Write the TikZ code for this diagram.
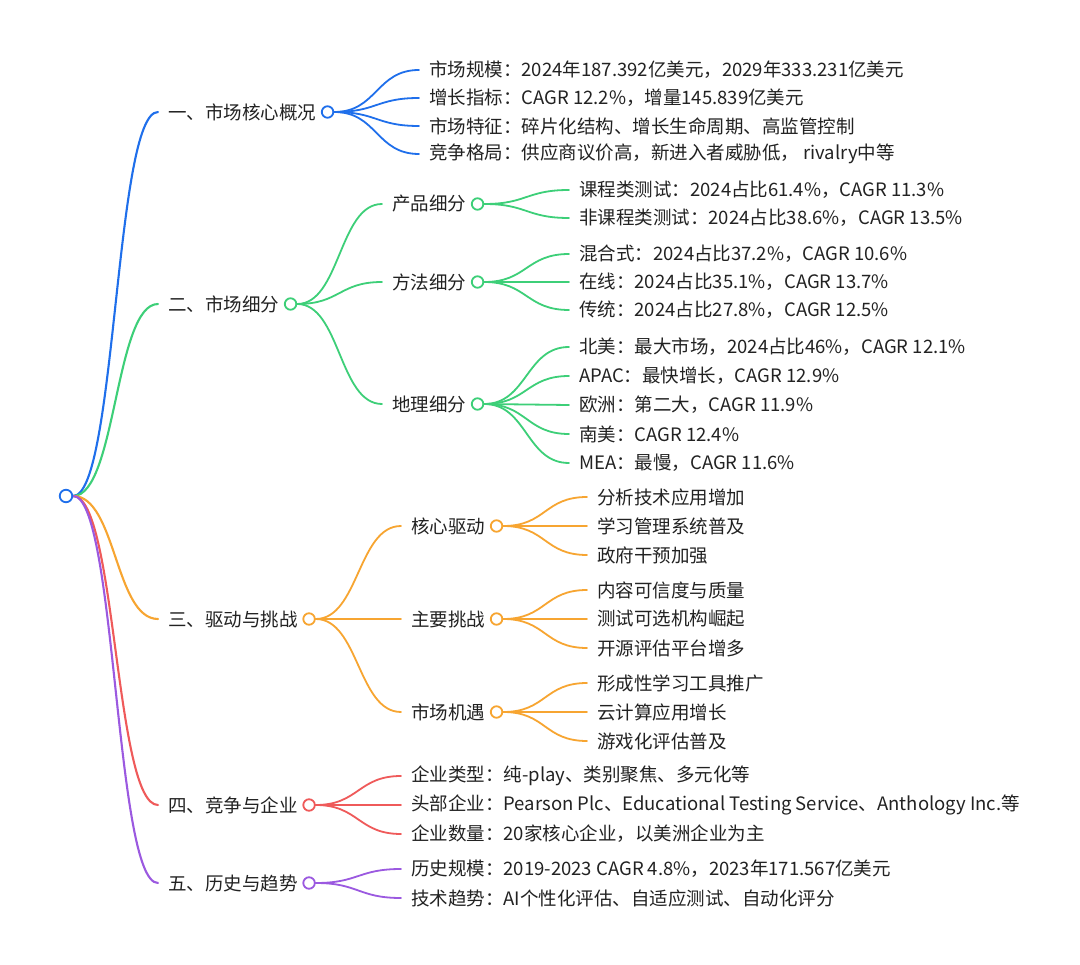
\documentclass[tikz,border=0pt]{standalone}
\usepackage{fontspec}
\setmainfont{Noto Sans CJK SC}
\definecolor{cB}{HTML}{1F6FEB}
\definecolor{cG}{HTML}{3DCF78}
\definecolor{cO}{HTML}{F7A531}
\definecolor{cR}{HTML}{EF5A5A}
\definecolor{cP}{HTML}{9B59E0}
\definecolor{ink}{HTML}{222222}
\pgfdeclarelayer{bg}
\pgfsetlayers{bg,main}
\tikzset{
  txt/.style={anchor=west, inner sep=0pt, font=\fontsize{18.5}{22}\selectfont, text=ink},
  dot/.style={circle, draw=#1, fill=white, line width=1.8pt, minimum size=11.5pt, inner sep=0pt, anchor=west},
  link/.style={draw=#1, line width=1.8pt, line cap=round,
    to path={.. controls +(43,0) and +(-43,0) .. (\tikztotarget)}},
  rlink/.style={link=#1, line width=2.1pt},
}
\begin{document}
\begin{tikzpicture}[x=1pt,y=-1pt]
\useasboundingbox (0,0) rectangle (1080,965);
\begin{pgfonlayer}{bg}
  \fill[white] (0,0) rectangle (1080,965);
\end{pgfonlayer}

% root
\node[dot=cB, anchor=center, minimum size=12.5pt] (root) at (66,496) {};

% ---------- branch 1
\node[txt] (a) at (168,112) {一、市场核心概况};
\node[dot=cB] (ac) at ([xshift=4.5pt]a.east) {};
\node[txt] (a1) at (429,70) {市场规模：2024年187.392亿美元，2029年333.231亿美元};
\node[txt] (a2) at (429,98) {增长指标：CAGR 12.2\%，增量145.839亿美元};
\node[txt] (a3) at (429,126) {市场特征：碎片化结构、增长生命周期、高监管控制};
\node[txt] (a4) at (429,154) {竞争格局：供应商议价高，新进入者威胁低， rivalry中等};

% ---------- branch 2
\node[txt] (b) at (168,304) {二、市场细分};
\node[dot=cG] (bc) at ([xshift=4.5pt]b.east) {};
\node[txt] (b1) at (392,204) {产品细分};
\node[dot=cG] (b1c) at ([xshift=4.5pt]b1.east) {};
\node[txt] (b11) at (579,190) {课程类测试：2024占比61.4\%，CAGR 11.3\%};
\node[txt] (b12) at (579,218) {非课程类测试：2024占比38.6\%，CAGR 13.5\%};
\node[txt] (b2) at (392,282) {方法细分};
\node[dot=cG] (b2c) at ([xshift=4.5pt]b2.east) {};
\node[txt] (b21) at (579,254) {混合式：2024占比37.2\%，CAGR 10.6\%};
\node[txt] (b22) at (579,282) {在线：2024占比35.1\%，CAGR 13.7\%};
\node[txt] (b23) at (579,310) {传统：2024占比27.8\%，CAGR 12.5\%};
\node[txt] (b3) at (392,404) {地理细分};
\node[dot=cG] (b3c) at ([xshift=4.5pt]b3.east) {};
\node[txt] (b31) at (579,347) {北美：最大市场，2024占比46\%，CAGR 12.1\%};
\node[txt] (b32) at (579,376) {APAC：最快增长，CAGR 12.9\%};
\node[txt] (b33) at (579,405) {欧洲：第二大，CAGR 11.9\%};
\node[txt] (b34) at (579,434) {南美：CAGR 12.4\%};
\node[txt] (b35) at (579,463) {MEA：最慢，CAGR 11.6\%};

% ---------- branch 3
\node[txt] (c) at (168,619) {三、驱动与挑战};
\node[dot=cO] (cc) at ([xshift=4.5pt]c.east) {};
\node[txt] (c1) at (411,526) {核心驱动};
\node[dot=cO] (c1c) at ([xshift=4.5pt]c1.east) {};
\node[txt] (c11) at (597,497) {分析技术应用增加};
\node[txt] (c12) at (597,526) {学习管理系统普及};
\node[txt] (c13) at (597,555) {政府干预加强};
\node[txt] (c2) at (411,619) {主要挑战};
\node[dot=cO] (c2c) at ([xshift=4.5pt]c2.east) {};
\node[txt] (c21) at (597,590) {内容可信度与质量};
\node[txt] (c22) at (597,619) {测试可选机构崛起};
\node[txt] (c23) at (597,648) {开源评估平台增多};
\node[txt] (c3) at (411,712) {市场机遇};
\node[dot=cO] (c3c) at ([xshift=4.5pt]c3.east) {};
\node[txt] (c31) at (597,683) {形成性学习工具推广};
\node[txt] (c32) at (597,712) {云计算应用增长};
\node[txt] (c33) at (597,741) {游戏化评估普及};

% ---------- branch 4
\node[txt] (d) at (168,805) {四、竞争与企业};
\node[dot=cR] (dc) at ([xshift=4.5pt]d.east) {};
\node[txt] (d1) at (411,776) {企业类型：纯-play、类别聚焦、多元化等};
\node[txt] (d2) at (411,805) {头部企业：Pearson Plc、Educational Testing Service、Anthology Inc.等};
\node[txt] (d3) at (411,834) {企业数量：20家核心企业，以美洲企业为主};

% ---------- branch 5
\node[txt] (e) at (168,883) {五、历史与趋势};
\node[dot=cP] (ec) at ([xshift=4.5pt]e.east) {};
\node[txt] (e1) at (411,869) {历史规模：2019-2023 CAGR 4.8\%，2023年171.567亿美元};
\node[txt] (e2) at (411,898) {技术趋势：AI个性化评估、自适应测试、自动化评分};

\begin{pgfonlayer}{bg}
  % root links
  \draw[rlink=cB] (root.east) to ([xshift=-10pt]a.west);
  \draw[rlink=cG] (root.east) to ([xshift=-10pt]b.west);
  \draw[rlink=cO] (root.east) to ([xshift=-10pt]c.west);
  \draw[rlink=cR] (root.east) to ([xshift=-10pt]d.west);
  \draw[rlink=cP] (root.east) to ([xshift=-10pt]e.west);
  % branch 1
  \foreach \n in {a1,a2,a3,a4} \draw[link=cB] (ac.east) to ([xshift=-10pt]\n.west);
  % branch 2
  \foreach \n in {b1,b2,b3} \draw[link=cG] (bc.east) to ([xshift=-10pt]\n.west);
  \foreach \n in {b11,b12} \draw[link=cG] (b1c.east) to ([xshift=-10pt]\n.west);
  \foreach \n in {b21,b22,b23} \draw[link=cG] (b2c.east) to ([xshift=-10pt]\n.west);
  \foreach \n in {b31,b32,b33,b34,b35} \draw[link=cG] (b3c.east) to ([xshift=-10pt]\n.west);
  % branch 3
  \foreach \n in {c1,c2,c3} \draw[link=cO] (cc.east) to ([xshift=-10pt]\n.west);
  \foreach \n in {c11,c12,c13} \draw[link=cO] (c1c.east) to ([xshift=-10pt]\n.west);
  \foreach \n in {c21,c22,c23} \draw[link=cO] (c2c.east) to ([xshift=-10pt]\n.west);
  \foreach \n in {c31,c32,c33} \draw[link=cO] (c3c.east) to ([xshift=-10pt]\n.west);
  % branch 4
  \foreach \n in {d1,d2,d3} \draw[link=cR] (dc.east) to ([xshift=-10pt]\n.west);
  % branch 5
  \foreach \n in {e1,e2} \draw[link=cP] (ec.east) to ([xshift=-10pt]\n.west);
\end{pgfonlayer}
\end{tikzpicture}
\end{document}
